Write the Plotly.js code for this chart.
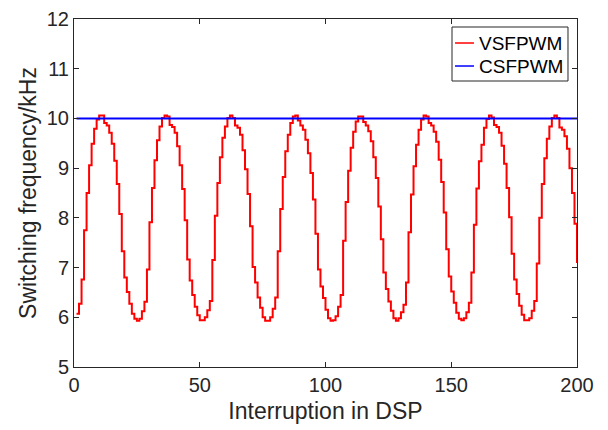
<!DOCTYPE html>
<html>
<head>
<meta charset="utf-8">
<script src="https://cdn.plot.ly/plotly-3.0.1.min.js"></script>
<style>html,body{margin:0;padding:0;background:#fff;}#chart{width:608px;height:430px;}</style>
</head>
<body>
<div id="chart"></div>
<script>
// Interruption index (1..200)
var interruptions = [];
for (var i = 1; i <= 200; i++) interruptions.push(i);

// VSFPWM switching frequency (kHz)
var vsfpwm = [
  6.07, 6.27, 6.76, 7.75, 8.50, 9.06, 9.49, 9.79, 9.98, 10.06,
  10.06, 9.91, 9.86, 9.71, 9.49, 9.15, 8.68, 8.08, 7.33, 6.80,
  6.51, 6.27, 6.07, 5.97, 5.93, 5.97, 6.12, 6.31, 6.96, 7.91,
  8.60, 9.16, 9.56, 9.84, 10.01, 10.06, 10.04, 9.87, 9.83, 9.71,
  9.44, 9.06, 8.58, 7.95, 7.16, 6.74, 6.45, 6.21, 6.04, 5.94,
  5.94, 6.00, 6.14, 6.33, 7.15, 8.04, 8.70, 9.22, 9.61, 9.84,
  10.01, 10.06, 10.01, 9.86, 9.81, 9.67, 9.36, 8.98, 8.48, 7.83,
  7.01, 6.70, 6.40, 6.19, 6.00, 5.93, 5.93, 6.00, 6.17, 6.40,
  7.33, 8.18, 8.82, 9.34, 9.67, 9.91, 10.04, 10.06, 9.96, 9.86,
  9.77, 9.57, 9.30, 8.90, 8.37, 7.68, 6.96, 6.62, 6.39, 6.15,
  5.98, 5.93, 5.94, 6.02, 6.21, 6.45, 7.54, 8.32, 8.95, 9.41,
  9.73, 9.94, 10.04, 10.04, 9.93, 9.86, 9.74, 9.54, 9.22, 8.80,
  8.23, 7.57, 6.90, 6.57, 6.32, 6.13, 5.98, 5.93, 5.98, 6.10,
  6.25, 6.70, 7.71, 8.47, 9.04, 9.47, 9.77, 9.98, 10.06, 10.04,
  9.91, 9.86, 9.73, 9.53, 9.17, 8.72, 8.11, 7.37, 6.82, 6.52,
  6.29, 6.09, 5.97, 5.94, 5.98, 6.10, 6.29, 6.90, 7.86, 8.59,
  9.14, 9.47, 9.81, 9.99, 10.06, 10.02, 9.87, 9.83, 9.71, 9.45,
  9.09, 8.60, 8.01, 7.28, 6.76, 6.47, 6.23, 6.05, 5.94, 5.94,
  5.98, 6.13, 6.33, 7.08, 8.00, 8.68, 9.20, 9.59, 9.84, 10.01,
  10.06, 10.01, 9.82, 9.77, 9.64, 9.39, 9.00, 8.50, 7.88, 7.09
];

// CSFPWM constant switching frequency (kHz)
var csfpwmX = [1, 200];
var csfpwm = [10, 10];

var seriesNames = ['VSFPWM', 'CSFPWM'];
var seriesColors = ['#ff0000', '#0000ff'];

var xTicks = [0, 50, 100, 150, 200];
var yTicks = [5, 6, 7, 8, 9, 10, 11, 12];

var fontFam = '"Liberation Sans", Arial, Helvetica, sans-serif';
var axisColor = '#262626';

var traces = [
  {
    x: interruptions, y: vsfpwm, type: 'scatter', mode: 'lines',
    name: seriesNames[0], line: {color: seriesColors[0], width: 2, shape: 'hv'}
  },
  {
    x: csfpwmX, y: csfpwm, type: 'scatter', mode: 'lines',
    name: seriesNames[1], line: {color: seriesColors[1], width: 2}
  }
];

// Compact legend drawn in paper coordinates (MATLAB-style short line samples)
var legBox = {x0: 0.7515, x1: 0.9821, y0: 0.8218, y1: 0.977};
var legRows = [0.931, 0.8649];
var shapes = [{
  type: 'rect', xref: 'paper', yref: 'paper',
  x0: legBox.x0, x1: legBox.x1, y0: legBox.y0, y1: legBox.y1,
  line: {color: axisColor, width: 1}, fillcolor: '#ffffff', layer: 'above'
}];
var annotations = [];
seriesNames.forEach(function (nm, k) {
  shapes.push({
    type: 'line', xref: 'paper', yref: 'paper',
    x0: 0.7575, x1: 0.7952, y0: legRows[k], y1: legRows[k],
    line: {color: seriesColors[k], width: 1.5}, layer: 'above'
  });
  annotations.push({
    xref: 'paper', yref: 'paper', x: 0.8012, y: legRows[k],
    xanchor: 'left', yanchor: 'middle', showarrow: false,
    text: nm, font: {family: fontFam, size: 19, color: '#000000'}
  });
});

var layout = {
  width: 608, height: 430,
  margin: {l: 74, r: 31, t: 19, b: 63},
  paper_bgcolor: '#ffffff', plot_bgcolor: '#ffffff',
  font: {family: fontFam, color: axisColor},
  showlegend: false,
  shapes: shapes,
  annotations: annotations,
  xaxis: {
    range: [0, 200], tickvals: xTicks, ticktext: xTicks.map(String),
    ticks: 'inside', ticklen: 5, tickwidth: 1, tickcolor: axisColor,
    showline: true, linecolor: axisColor, linewidth: 1, mirror: 'ticks',
    showgrid: false, zeroline: false,
    tickfont: {family: fontFam, size: 20, color: axisColor},
    title: {text: 'Interruption in DSP', font: {family: fontFam, size: 23, color: axisColor}, standoff: 7}
  },
  yaxis: {
    range: [5, 12], tickvals: yTicks, ticktext: yTicks.map(String),
    ticks: 'inside', ticklen: 5, tickwidth: 1, tickcolor: axisColor,
    showline: true, linecolor: axisColor, linewidth: 1, mirror: 'ticks',
    showgrid: false, zeroline: false,
    tickfont: {family: fontFam, size: 20, color: axisColor},
    title: {text: 'Switching frequency/kHz', font: {family: fontFam, size: 23, color: axisColor}, standoff: 3}
  }
};

Plotly.newPlot('chart', traces, layout, {displayModeBar: false, staticPlot: true});
</script>
</body>
</html>
